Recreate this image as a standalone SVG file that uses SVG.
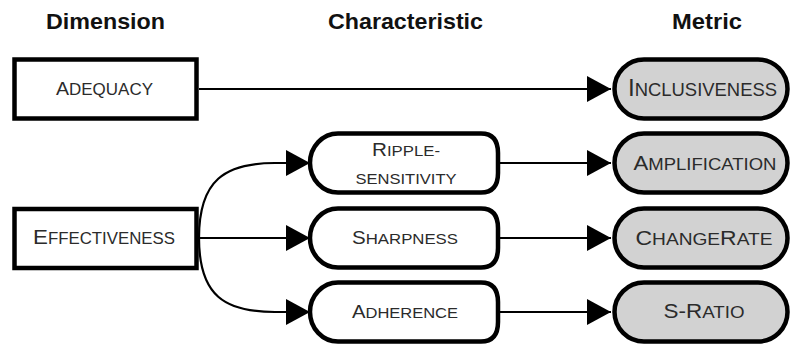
<svg xmlns="http://www.w3.org/2000/svg" width="791" height="347" viewBox="0 0 791 347">
  <style>
    .hdr { font-family: "Liberation Sans", Arial, sans-serif; font-weight: bold; font-size: 22.5px; fill: #111; text-anchor: middle; }
    .lbl { font-family: "Liberation Sans", Arial, sans-serif; fill: #2b2b2b; text-anchor: middle; }
    .box { fill: #fff; stroke: #000; stroke-width: 4.5; }
    .char { fill: #fff; stroke: #000; stroke-width: 4.5; stroke-linejoin: round; }
    .metric { fill: #d2d2d2; stroke: #000; stroke-width: 4.5; }
    .edge { fill: none; stroke: #000; stroke-width: 2.2; marker-end: url(#head); }
  </style>
  <defs>
    <marker id="head" markerUnits="userSpaceOnUse" markerWidth="24" markerHeight="26" refX="24" refY="13" orient="auto">
      <path d="M0,0 L24,13 L0,26 Z" fill="#000"/>
    </marker>
  </defs>
  <rect width="791" height="347" fill="#fff"/>

  <!-- column headings -->
  <text class="hdr" x="105.5" y="29" textLength="119" lengthAdjust="spacingAndGlyphs">Dimension</text>
  <text class="hdr" x="405.5" y="29" textLength="155" lengthAdjust="spacingAndGlyphs">Characteristic</text>
  <text class="hdr" x="707" y="29" textLength="70" lengthAdjust="spacingAndGlyphs">Metric</text>

  <!-- connectors -->
  <g id="connectors">
    <path class="edge" d="M199,89 L611,89"/>
    <path class="edge" d="M199,238 C199,180 225,163 275,163 L310,163"/>
    <path class="edge" d="M199,238 L310,238"/>
    <path class="edge" d="M199,238 C199,296 225,312 275,312 L310,312"/>
    <path class="edge" d="M500,163 L611,163"/>
    <path class="edge" d="M500,238 L611,238"/>
    <path class="edge" d="M500,312 L611,312"/>
  </g>

  <!-- dimensions -->
  <g id="adequacy">
    <rect class="box" x="14.5" y="59.5" width="182" height="59"/>
    <text class="lbl" x="104.5" y="95" textLength="97" lengthAdjust="spacingAndGlyphs"><tspan font-size="19">A</tspan><tspan font-size="16.5">DEQUACY</tspan></text>
  </g>
  <g id="effectiveness">
    <rect class="box" x="14.5" y="209" width="182" height="59"/>
    <text class="lbl" x="104" y="243.5" textLength="142" lengthAdjust="spacingAndGlyphs"><tspan font-size="21">E</tspan><tspan font-size="15.8">FFECTIVENESS</tspan></text>
  </g>

  <!-- characteristics -->
  <g id="ripple-sensitivity">
    <path class="char" d="M338,133.5 L481,133.5 Q498,133.5 498,153 L498,173 Q498,192.5 481,192.5 L338,192.5 A28,29.5 0 0 1 338,133.5 Z"/>
    <text class="lbl" x="406" y="155.5" textLength="68" lengthAdjust="spacingAndGlyphs"><tspan font-size="18.5">R</tspan><tspan font-size="15">IPPLE-</tspan></text>
    <text class="lbl" x="406" y="183.5" font-size="15.5" textLength="101" lengthAdjust="spacingAndGlyphs">SENSITIVITY</text>
  </g>
  <g id="sharpness">
    <path class="char" d="M338,208.5 L481,208.5 Q498,208.5 498,228 L498,248 Q498,267.5 481,267.5 L338,267.5 A28,29.5 0 0 1 338,208.5 Z"/>
    <text class="lbl" x="405" y="243.5" textLength="106" lengthAdjust="spacingAndGlyphs"><tspan font-size="19">S</tspan><tspan font-size="15.5">HARPNESS</tspan></text>
  </g>
  <g id="adherence">
    <path class="char" d="M338,282.5 L481,282.5 Q498,282.5 498,302 L498,322 Q498,341.5 481,341.5 L338,341.5 A28,29.5 0 0 1 338,282.5 Z"/>
    <text class="lbl" x="405" y="318" textLength="106" lengthAdjust="spacingAndGlyphs"><tspan font-size="19">A</tspan><tspan font-size="15.5">DHERENCE</tspan></text>
  </g>

  <!-- metrics -->
  <g id="inclusiveness">
    <rect class="metric" x="614.5" y="59.5" width="173" height="59" rx="29.5"/>
    <text class="lbl" x="702.5" y="96" textLength="149" lengthAdjust="spacingAndGlyphs"><tspan font-size="23">I</tspan><tspan font-size="17.5">NCLUSIVENESS</tspan></text>
  </g>
  <g id="amplification">
    <rect class="metric" x="614.5" y="133.5" width="173" height="59" rx="29.5"/>
    <text class="lbl" x="705" y="170" textLength="143" lengthAdjust="spacingAndGlyphs"><tspan font-size="19.5">A</tspan><tspan font-size="16.3">MPLIFICATION</tspan></text>
  </g>
  <g id="changerate">
    <rect class="metric" x="614.5" y="208.5" width="173" height="59" rx="29.5"/>
    <text class="lbl" x="704" y="245" textLength="137" lengthAdjust="spacingAndGlyphs"><tspan font-size="19.5">C</tspan><tspan font-size="16.3">HANGE</tspan><tspan font-size="19.5">R</tspan><tspan font-size="16.3">ATE</tspan></text>
  </g>
  <g id="s-ratio">
    <rect class="metric" x="614.5" y="282.5" width="173" height="59" rx="29.5"/>
    <text class="lbl" x="704" y="318" textLength="81" lengthAdjust="spacingAndGlyphs"><tspan font-size="19.5">S-R</tspan><tspan font-size="16.3">ATIO</tspan></text>
  </g>
</svg>
